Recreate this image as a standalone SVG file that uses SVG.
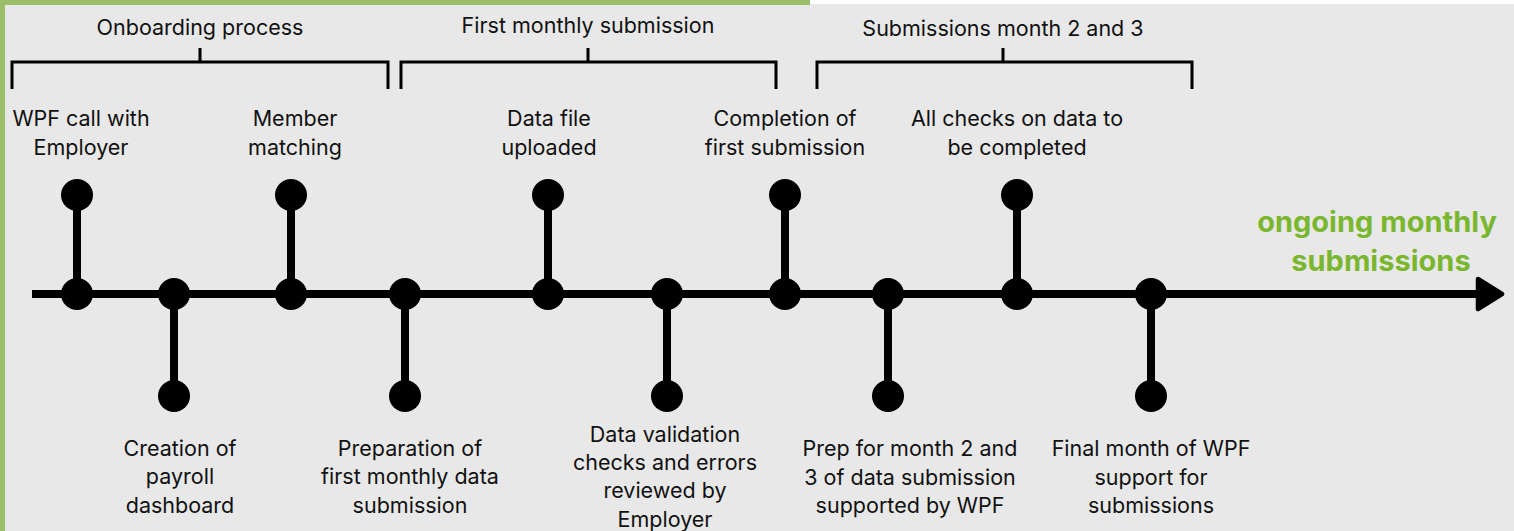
<svg xmlns="http://www.w3.org/2000/svg" width="1514" height="531" viewBox="0 0 1514 531">
<style>
.t{font-family:Inter,"Liberation Sans",sans-serif;font-size:21.5px;fill:#111;text-anchor:middle}
.g{font-family:Inter,"Liberation Sans",sans-serif;font-size:29px;font-weight:bold;fill:#7ab72f;text-anchor:middle}
.br{fill:none;stroke:#000;stroke-width:3}
.ln{stroke:#000;stroke-width:8;fill:none}
.dot{fill:#000}
</style>
<defs>
<marker id="ah" viewBox="0 0 10 12" refX="5" refY="6" markerWidth="3.75" markerHeight="4.5" orient="auto" markerUnits="strokeWidth">
<path d="M1,1 L9,6 L1,11 Z" fill="#000" stroke="#000" stroke-width="1.5" stroke-linejoin="round"/>
</marker>
</defs>
<rect x="0" y="0" width="1514" height="531" fill="#e8e8e8"/>
<rect x="810" y="0" width="704" height="4" fill="#ffffff"/>
<rect x="0" y="0" width="810" height="5" fill="#9bbd68"/>
<rect x="0" y="0" width="5" height="531" fill="#9bbd68"/>

<g id="brackets">
<g id="phase-onboarding">
<path class="br" d="M12,89 V62 H388 V89 M200,62 V48"/>
<text class="t" x="200" y="35">Onboarding process</text>
</g>
<g id="phase-first">
<path class="br" d="M401,89 V62 H776 V89 M588,62 V48"/>
<text class="t" x="588" y="33">First monthly submission</text>
</g>
<g id="phase-month23">
<path class="br" d="M817,89 V62 H1192 V89 M1003,62 V48"/>
<text class="t" x="1003" y="36">Submissions month 2 and 3</text>
</g>
</g>

<g id="connectors">
<line class="ln" x1="32" y1="294" x2="1490" y2="294" marker-end="url(#ah)"/>
<line class="ln" x1="77" y1="195" x2="77" y2="294"/>
<line class="ln" x1="174" y1="294" x2="174" y2="396"/>
<line class="ln" x1="291" y1="195" x2="291" y2="294"/>
<line class="ln" x1="405" y1="294" x2="405" y2="396"/>
<line class="ln" x1="548" y1="195" x2="548" y2="294"/>
<line class="ln" x1="667" y1="294" x2="667" y2="396"/>
<line class="ln" x1="785" y1="195" x2="785" y2="294"/>
<line class="ln" x1="888" y1="294" x2="888" y2="396"/>
<line class="ln" x1="1017" y1="195" x2="1017" y2="294"/>
<line class="ln" x1="1151" y1="294" x2="1151" y2="396"/>
</g>

<g id="n1"><circle class="dot" cx="77" cy="294" r="16"/><circle class="dot" cx="77" cy="195" r="16"/><text class="t" x="81" y="126">WPF call with</text><text class="t" x="81" y="155">Employer</text></g>
<g id="n2"><circle class="dot" cx="174" cy="294" r="16"/><circle class="dot" cx="174" cy="396" r="16"/><text class="t" x="180" y="456">Creation of</text><text class="t" x="180" y="484">payroll</text><text class="t" x="180" y="513">dashboard</text></g>
<g id="n3"><circle class="dot" cx="291" cy="294" r="16"/><circle class="dot" cx="291" cy="195" r="16"/><text class="t" x="295" y="126">Member</text><text class="t" x="295" y="155">matching</text></g>
<g id="n4"><circle class="dot" cx="405" cy="294" r="16"/><circle class="dot" cx="405" cy="396" r="16"/><text class="t" x="410" y="456">Preparation of</text><text class="t" x="410" y="484">first monthly data</text><text class="t" x="410" y="513">submission</text></g>
<g id="n5"><circle class="dot" cx="548" cy="294" r="16"/><circle class="dot" cx="548" cy="195" r="16"/><text class="t" x="549" y="126">Data file</text><text class="t" x="549" y="155">uploaded</text></g>
<g id="n6"><circle class="dot" cx="667" cy="294" r="16"/><circle class="dot" cx="667" cy="396" r="16"/><text class="t" x="665" y="442">Data validation</text><text class="t" x="665" y="470">checks and errors</text><text class="t" x="665" y="498">reviewed by</text><text class="t" x="665" y="527">Employer</text></g>
<g id="n7"><circle class="dot" cx="785" cy="294" r="16"/><circle class="dot" cx="785" cy="195" r="16"/><text class="t" x="785" y="126">Completion of</text><text class="t" x="785" y="155">first submission</text></g>
<g id="n8"><circle class="dot" cx="888" cy="294" r="16"/><circle class="dot" cx="888" cy="396" r="16"/><text class="t" x="910" y="456">Prep for month 2 and</text><text class="t" x="910" y="485">3 of data submission</text><text class="t" x="910" y="513">supported by WPF</text></g>
<g id="n9"><circle class="dot" cx="1017" cy="294" r="16"/><circle class="dot" cx="1017" cy="195" r="16"/><text class="t" x="1017" y="126">All checks on data to</text><text class="t" x="1017" y="155">be completed</text></g>
<g id="n10"><circle class="dot" cx="1151" cy="294" r="16"/><circle class="dot" cx="1151" cy="396" r="16"/><text class="t" x="1151" y="456">Final month of WPF</text><text class="t" x="1151" y="485">support for</text><text class="t" x="1151" y="513">submissions</text></g>
<g id="end-label"><text class="g" x="1377" y="232">ongoing monthly</text><text class="g" x="1381" y="271">submissions</text></g>
</svg>
